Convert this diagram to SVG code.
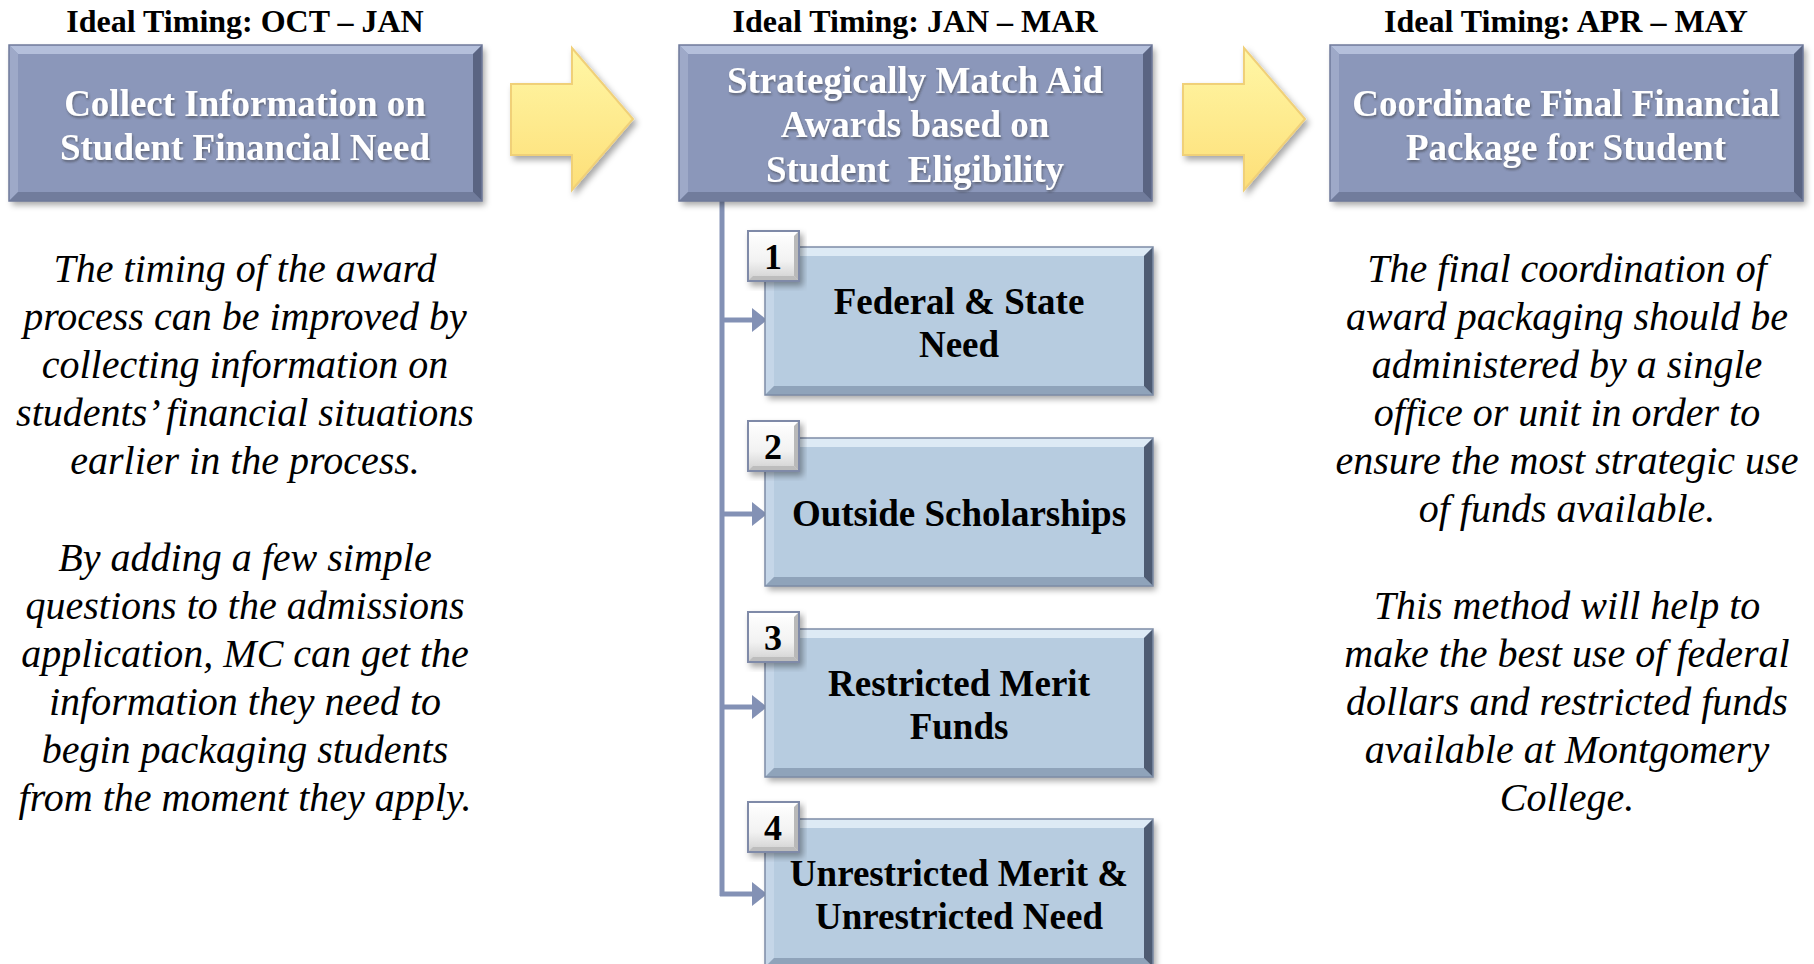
<svg xmlns="http://www.w3.org/2000/svg" xmlns:xlink="http://www.w3.org/1999/xlink" width="1814" height="964" viewBox="0 0 1814 964">
<style>
.timing{font-family:"Liberation Serif","Times New Roman",serif;font-weight:bold;font-size:32px;fill:#000;text-anchor:middle}
.title{font-family:"Liberation Serif","Times New Roman",serif;font-weight:bold;font-size:37px;fill:#fff;text-anchor:middle}
.sub{font-family:"Liberation Serif","Times New Roman",serif;font-weight:bold;font-size:37px;fill:#000;text-anchor:middle}
.num{font-family:"Liberation Serif","Times New Roman",serif;font-weight:bold;font-size:36px;fill:#000;text-anchor:middle}
.body{font-family:"Liberation Serif","Times New Roman",serif;font-style:italic;font-size:40px;fill:#000;text-anchor:middle}
.conn{stroke:#8391B5;stroke-width:5;fill:none}
.head{fill:#8391B5}
.arrow{fill:url(#yel);stroke:#F0D078;stroke-width:2;filter:url(#sh)}
</style>
<defs>
<linearGradient id="yel" x1="0" y1="0" x2="0" y2="1">
<stop offset="0" stop-color="#FFF7A6"/>
<stop offset="1" stop-color="#FDDF78"/>
</linearGradient>
<linearGradient id="badgeG" x1="0" y1="0" x2="0" y2="1">
<stop offset="0" stop-color="#FFFFFF"/>
<stop offset="0.6" stop-color="#F2F2F2"/>
<stop offset="1" stop-color="#CFCFCF"/>
</linearGradient>
<filter id="sh" x="-10%" y="-10%" width="125%" height="130%">
<feDropShadow dx="3" dy="4" stdDeviation="3" flood-color="#000" flood-opacity="0.35"/>
</filter>
<filter id="tsh" x="-5%" y="-20%" width="110%" height="150%">
<feDropShadow dx="1" dy="2" stdDeviation="1" flood-color="#333" flood-opacity="0.5"/>
</filter>
<g id="mainBox">
<rect x="0" y="0" width="473" height="156" fill="#8B97BA" filter="url(#sh)"/>
<polygon points="0,0 473,0 464,9 9,9" fill="#B4BFDB"/>
<polygon points="0,0 9,9 9,147 0,156" fill="#9EA9C8"/>
<polygon points="0,156 9,147 464,147 473,156" fill="#717C9C"/>
<polygon points="473,0 473,156 464,147 464,9" fill="#5A6482"/>
<rect x="0" y="0" width="473" height="156" fill="none" stroke="#6F7A9A" stroke-width="1.5"/>
</g>
<g id="subBox">
<rect x="0" y="0" width="388" height="148" fill="#B7CCE0" filter="url(#sh)"/>
<polygon points="0,0 388,0 379,9 9,9" fill="#DDEAF5"/>
<polygon points="0,0 9,9 9,139 0,148" fill="#C5D6E8"/>
<polygon points="0,148 9,139 379,139 388,148" fill="#8FA3BA"/>
<polygon points="388,0 388,148 379,139 379,9" fill="#4E5B72"/>
<rect x="0" y="0" width="388" height="148" fill="none" stroke="#7D8CA6" stroke-width="1.5"/>
</g>
<g id="badge">
<rect x="0" y="0" width="51" height="50" fill="url(#badgeG)" stroke="#7F8AA8" stroke-width="2" filter="url(#sh)"/>
<polygon points="1,1 50,1 46,5 5,5" fill="#FFFFFF"/>
<polygon points="50,1 50,49 46,45 46,5" fill="#B9B9B9"/>
<polygon points="1,49 5,45 46,45 50,49" fill="#BDBDBD"/>
</g>
</defs>
<rect width="1814" height="964" fill="#FFFFFF"/>

<g id="timing-labels">
<text class="timing" x="245" y="32">Ideal Timing: OCT – JAN</text>
<text class="timing" x="915" y="32">Ideal Timing: JAN – MAR</text>
<text class="timing" x="1566" y="32">Ideal Timing: APR – MAY</text>
</g>

<g id="flow-arrows">
<polygon class="arrow" points="511,84 572,84 572,48 633,119 572,190 572,155 511,155"/>
<polygon class="arrow" points="1183,84 1244,84 1244,48 1305,119 1244,190 1244,155 1183,155"/>
</g>

<g id="connectors">
<line class="conn" x1="722" y1="201" x2="722" y2="896"/>
<line class="conn" x1="720" y1="320" x2="754" y2="320"/>
<polygon class="head" points="752,308 767,320 752,332"/>
<line class="conn" x1="720" y1="514" x2="754" y2="514"/>
<polygon class="head" points="752,502 767,514 752,526"/>
<line class="conn" x1="720" y1="707" x2="754" y2="707"/>
<polygon class="head" points="752,695 767,707 752,719"/>
<line class="conn" x1="720" y1="894" x2="754" y2="894"/>
<polygon class="head" points="752,882 767,894 752,906"/>
</g>

<g id="node-collect">
<use xlink:href="#mainBox" x="9" y="45"/>
<g filter="url(#tsh)">
<text class="title" x="245" y="116">Collect Information on</text>
<text class="title" x="245" y="160">Student Financial Need</text>
</g>
</g>

<g id="node-match">
<use xlink:href="#mainBox" x="679" y="45"/>
<g filter="url(#tsh)">
<text class="title" x="915" y="93">Strategically Match Aid</text>
<text class="title" x="915" y="137">Awards based on</text>
<text class="title" x="915" y="182" xml:space="preserve">Student  Eligibility</text>
</g>
</g>

<g id="node-coordinate">
<use xlink:href="#mainBox" x="1330" y="45"/>
<g filter="url(#tsh)">
<text class="title" x="1566" y="116">Coordinate Final Financial</text>
<text class="title" x="1566" y="160">Package for Student</text>
</g>
</g>

<g id="node-1">
<use xlink:href="#subBox" x="765" y="247"/>
<text class="sub" x="959" y="314">Federal &amp; State</text>
<text class="sub" x="959" y="357">Need</text>
<use xlink:href="#badge" x="748" y="231"/>
<text class="num" x="773" y="269">1</text>
</g>

<g id="node-2">
<use xlink:href="#subBox" x="765" y="438"/>
<text class="sub" x="959" y="526">Outside Scholarships</text>
<use xlink:href="#badge" x="748" y="421"/>
<text class="num" x="773" y="459">2</text>
</g>

<g id="node-3">
<use xlink:href="#subBox" x="765" y="629"/>
<text class="sub" x="959" y="696">Restricted Merit</text>
<text class="sub" x="959" y="739">Funds</text>
<use xlink:href="#badge" x="748" y="612"/>
<text class="num" x="773" y="650">3</text>
</g>

<g id="node-4">
<use xlink:href="#subBox" x="765" y="819"/>
<text class="sub" x="959" y="886">Unrestricted Merit &amp;</text>
<text class="sub" x="959" y="929">Unrestricted Need</text>
<use xlink:href="#badge" x="748" y="802"/>
<text class="num" x="773" y="840">4</text>
</g>

<g id="text-left">
<text class="body" x="245" y="282">The timing of the award</text>
<text class="body" x="245" y="330">process can be improved by</text>
<text class="body" x="245" y="378">collecting information on</text>
<text class="body" x="245" y="426">students’ financial situations</text>
<text class="body" x="245" y="474">earlier in the process.</text>
<text class="body" x="245" y="571">By adding a few simple</text>
<text class="body" x="245" y="619">questions to the admissions</text>
<text class="body" x="245" y="667">application, MC can get the</text>
<text class="body" x="245" y="715">information they need to</text>
<text class="body" x="245" y="763">begin packaging students</text>
<text class="body" x="245" y="811">from the moment they apply.</text>
</g>

<g id="text-right">
<text class="body" x="1567" y="282">The final coordination of</text>
<text class="body" x="1567" y="330">award packaging should be</text>
<text class="body" x="1567" y="378">administered by a single</text>
<text class="body" x="1567" y="426">office or unit in order to</text>
<text class="body" x="1567" y="474">ensure the most strategic use</text>
<text class="body" x="1567" y="522">of funds available.</text>
<text class="body" x="1567" y="619">This method will help to</text>
<text class="body" x="1567" y="667">make the best use of federal</text>
<text class="body" x="1567" y="715">dollars and restricted funds</text>
<text class="body" x="1567" y="763">available at Montgomery</text>
<text class="body" x="1567" y="811">College.</text>
</g>
</svg>
